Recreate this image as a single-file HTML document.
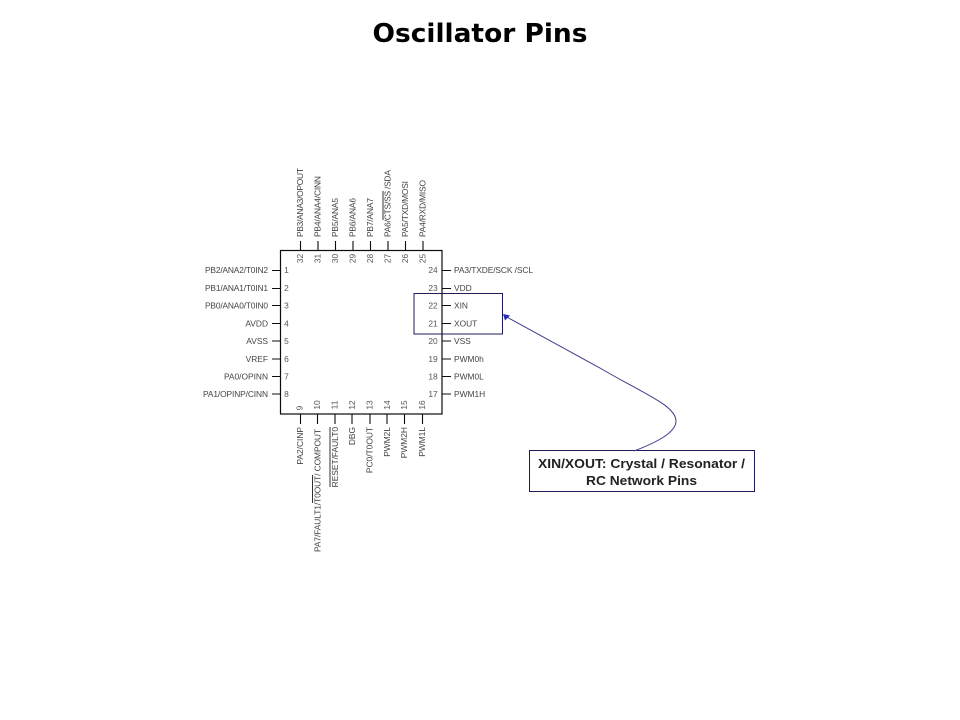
<!DOCTYPE html>
<html><head><meta charset="utf-8"><style>
html,body{margin:0;padding:0;background:#fff}
svg{display:block}
text{font-family:"Liberation Sans",sans-serif}
.p{font-size:8.4px;fill:#444}
.n{font-size:8.4px;fill:#555}
</style></head><body>
<svg width="960" height="720" viewBox="0 0 960 720" xmlns="http://www.w3.org/2000/svg">
<defs><filter id="b" x="-5%" y="-5%" width="110%" height="110%"><feGaussianBlur stdDeviation="0.3"/></filter></defs>
<rect width="960" height="720" fill="#fff"/>
<text x="480" y="42" text-anchor="middle" font-size="26" font-weight="bold" fill="#000" textLength="215" lengthAdjust="spacingAndGlyphs" style="font-family:'DejaVu Sans',sans-serif">Oscillator Pins</text>

<g filter="url(#b)">
<rect x="280.5" y="250.5" width="161.5" height="163.5" fill="none" stroke="#111" stroke-width="1.2"/>
<g stroke="#111" stroke-width="1.1">
<path d="M272 270.5h9M272 288.5h9M272 305.5h9M272 323.5h9M272 341h9M272 359h9M272 376.5h9M272 394h9"/>
<path d="M442 270.5h9M442 288.5h9M442 305.5h9M442 323.5h9M442 341h9M442 359h9M442 376.5h9M442 394h9"/>
<path d="M300.5 241v9M318 241v9M335.5 241v9M353 241v9M370.5 241v9M388 241v9M405.5 241v9M423 241v9"/>
<path d="M300.5 414v10M317.5 414v10M335 414v10M352 414v10M370 414v10M387 414v10M404.5 414v10M422.5 414v10"/>
</g>

<g class="p" text-anchor="end">
<text class="p" x="268" y="273" textLength="63">PB2/ANA2/T0IN2</text>
<text class="p" x="268" y="291" textLength="63">PB1/ANA1/T0IN1</text>
<text class="p" x="268" y="308.500" textLength="63">PB0/ANA0/T0IN0</text>
<text class="p" x="268" y="326.500">AVDD</text>
<text class="p" x="268" y="344">AVSS</text>
<text class="p" x="268" y="362">VREF</text>
<text class="p" x="268" y="379.500">PA0/OPINN</text>
<text class="p" x="268" y="397" textLength="65">PA1/OPINP/CINN</text>
</g>
<g>
<text class="p" x="454" y="273" textLength="79">PA3/TXDE/SCK /SCL</text>
<text class="p" x="454" y="291">VDD</text>
<text class="p" x="454" y="308.500">XIN</text>
<text class="p" x="454" y="326.500">XOUT</text>
<text class="p" x="454" y="344">VSS</text>
<text class="p" x="454" y="362">PWM0h</text>
<text class="p" x="454" y="379.500">PWM0L</text>
<text class="p" x="454" y="397">PWM1H</text>
</g>

<g text-anchor="middle">
<text class="n" x="286.500" y="273">1</text><text class="n" x="286.500" y="291">2</text><text class="n" x="286.500" y="308.500">3</text><text class="n" x="286.500" y="326.500">4</text><text class="n" x="286.500" y="344">5</text><text class="n" x="286.500" y="362">6</text><text class="n" x="286.500" y="379.500">7</text><text class="n" x="286.500" y="397">8</text>
<text class="n" x="433" y="273">24</text><text class="n" x="433" y="291">23</text><text class="n" x="433" y="308.500">22</text><text class="n" x="433" y="326.500">21</text><text class="n" x="433" y="344">20</text><text class="n" x="433" y="362">19</text><text class="n" x="433" y="379.500">18</text><text class="n" x="433" y="397">17</text>
</g>

<g text-anchor="middle">
<text class="n" transform="translate(303,258.500) rotate(-90)">32</text>
<text class="n" transform="translate(320.500,258.500) rotate(-90)">31</text>
<text class="n" transform="translate(338,258.500) rotate(-90)">30</text>
<text class="n" transform="translate(355.500,258.500) rotate(-90)">29</text>
<text class="n" transform="translate(373,258.500) rotate(-90)">28</text>
<text class="n" transform="translate(390.500,258.500) rotate(-90)">27</text>
<text class="n" transform="translate(408,258.500) rotate(-90)">26</text>
<text class="n" transform="translate(425.500,258.500) rotate(-90)">25</text>
<text class="n" transform="translate(302.500,408) rotate(-90)">9</text>
<text class="n" transform="translate(320,405) rotate(-90)">10</text>
<text class="n" transform="translate(337.500,405) rotate(-90)">11</text>
<text class="n" transform="translate(355,405) rotate(-90)">12</text>
<text class="n" transform="translate(372.500,405) rotate(-90)">13</text>
<text class="n" transform="translate(390,405) rotate(-90)">14</text>
<text class="n" transform="translate(407,405) rotate(-90)">15</text>
<text class="n" transform="translate(425,405) rotate(-90)">16</text>
</g>

<g>
<text class="p" transform="translate(303,237) rotate(-90)" textLength="69">PB3/ANA3/OPOUT</text>
<text class="p" transform="translate(320.500,237) rotate(-90)" textLength="61">PB4/ANA4/CINN</text>
<text class="p" transform="translate(338,237) rotate(-90)" textLength="39">PB5/ANA5</text>
<text class="p" transform="translate(355.500,237) rotate(-90)" textLength="39">PB6/ANA6</text>
<text class="p" transform="translate(373,237) rotate(-90)" textLength="39">PB7/ANA7</text>
<text class="p" transform="translate(390.500,237) rotate(-90)" textLength="67">PA6/CTS/SS /SDA</text>
<text class="p" transform="translate(408,237) rotate(-90)" textLength="56">PA5/TXD/MOSI</text>
<text class="p" transform="translate(425.500,237) rotate(-90)" textLength="57">PA4/RXD/MISO</text>
</g>
<g text-anchor="end">
<text class="p" text-anchor="end" transform="translate(303,427) rotate(-90)">PA2/CINP</text>
<text class="p" text-anchor="end" transform="translate(320.500,429) rotate(-90)" textLength="123">PA7/FAULT1/T0OUT/ COMPOUT</text>
<text class="p" text-anchor="end" transform="translate(338,427) rotate(-90)">RESET/FAULT0</text>
<text class="p" text-anchor="end" transform="translate(355,427) rotate(-90)">DBG</text>
<text class="p" text-anchor="end" transform="translate(372.500,427) rotate(-90)">PC0/T0OUT</text>
<text class="p" text-anchor="end" transform="translate(390,427) rotate(-90)">PWM2L</text>
<text class="p" text-anchor="end" transform="translate(407,427) rotate(-90)">PWM2H</text>
<text class="p" text-anchor="end" transform="translate(425,427) rotate(-90)">PWM1L</text>
</g>

<g stroke="#333" stroke-width="1">
<path d="M383 191V220M312.500 475V503M330 427V487"/>
</g>
</g>

<rect x="414" y="293.500" width="88.500" height="40.500" fill="none" stroke="#1d1d5c" stroke-width="1"/>
<rect x="529.500" y="450.500" width="225" height="41" fill="#fff" stroke="#1d1d5c" stroke-width="1"/>
<text x="641.500" y="468" text-anchor="middle" font-size="12.500" font-weight="bold" fill="#222" textLength="207" lengthAdjust="spacingAndGlyphs">XIN/XOUT: Crystal / Resonator /</text>
<text x="641.500" y="485" text-anchor="middle" font-size="12.500" font-weight="bold" fill="#222" textLength="111" lengthAdjust="spacingAndGlyphs">RC Network Pins</text>

<path d="M505 316 L600 368 C640 392 676 405 676 421 C676 433 655 443 634 451" fill="none" stroke="#3c3c8c" stroke-width="1"/>
<path d="M503 314 L510 315.500 L505 320.500 Z" fill="#2c2cb0"/>
</svg>
</body></html>
